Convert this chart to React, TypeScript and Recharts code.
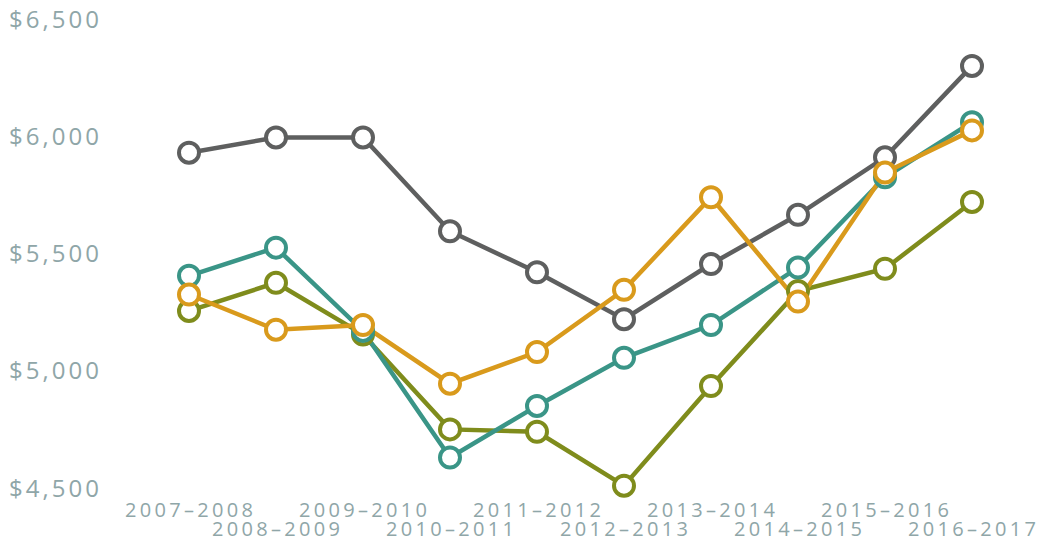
import { CartesianGrid, Line, LineChart, XAxis, YAxis } from 'recharts';

const years = [
  '2007–2008', '2008–2009', '2009–2010', '2010–2011', '2011–2012',
  '2012–2013', '2013–2014', '2014–2015', '2015–2016', '2016–2017',
];
const grayValues = [5930, 5995, 5995, 5595, 5420, 5220, 5455, 5665, 5910, 6300];
const oliveValues = [5255, 5375, 5155, 4750, 4740, 4510, 4935, 5340, 5435, 5720];
const tealValues = [5405, 5525, 5170, 4630, 4850, 5055, 5195, 5440, 5825, 6060];
const orangeValues = [5325, 5175, 5195, 4945, 5080, 5345, 5740, 5295, 5845, 6025];
const yTicks = [4500, 5000, 5500, 6000, 6500];

const data = years.map((year, i) => ({
  year,
  gray: grayValues[i],
  olive: oliveValues[i],
  teal: tealValues[i],
  orange: orangeValues[i],
}));

const labelColor = '#8fa6a8';
const font = '"Open Sans", sans-serif';

function YTick({ y, payload }: any) {
  return (
    <text
      x={9}
      y={y}
      dy={8.5}
      fill={labelColor}
      fontSize={24}
      fontWeight={500}
      fontFamily={font}
      textLength={90}
      lengthAdjust="spacing"
      textAnchor="start"
    >
      ${Number(payload.value).toLocaleString('en-US')}
    </text>
  );
}

function XTick({ x, payload, index }: any) {
  const lower = index % 2 === 1;
  return (
    <text
      x={x - 64}
      y={lower ? 536 : 517}
      fill={labelColor}
      fontSize={20}
      fontWeight={500}
      fontFamily={font}
      textAnchor="start"
      textLength={128}
      lengthAdjust="spacing"
    >
      {payload.value}
    </text>
  );
}

const dot = (color: string) => ({ r: 10, stroke: color, strokeWidth: 4, fill: '#ffffff' });

export default function App() {
  const series = [
    { key: 'gray', color: '#5e5f5f' },
    { key: 'olive', color: '#7f8c1c' },
    { key: 'teal', color: '#3a9587' },
    { key: 'orange', color: '#d99a1c' },
  ];
  return (
    <div style={{ position: 'absolute', left: 0, top: 0, width: 1037, height: 550, background: '#fff' }}>
      <LineChart width={1037} height={550} data={data} margin={{ top: 19, right: 37, bottom: 32, left: 0 }}>
        <CartesianGrid stroke="none" />
        <XAxis
          dataKey="year"
          height={30}
          axisLine={false}
          tickLine={false}
          interval={0}
          padding={{ left: 79, right: 28 }}
          tick={<XTick />}
        />
        <YAxis
          width={110}
          domain={[4500, 6500]}
          ticks={yTicks}
          axisLine={false}
          tickLine={false}
          tick={<YTick />}
        />
        {series.map((s) => (
          <Line
            key={s.key}
            dataKey={s.key}
            stroke={s.color}
            strokeWidth={4.5}
            dot={dot(s.color)}
            activeDot={false}
            isAnimationActive={false}
          />
        ))}
      </LineChart>
    </div>
  );
}
